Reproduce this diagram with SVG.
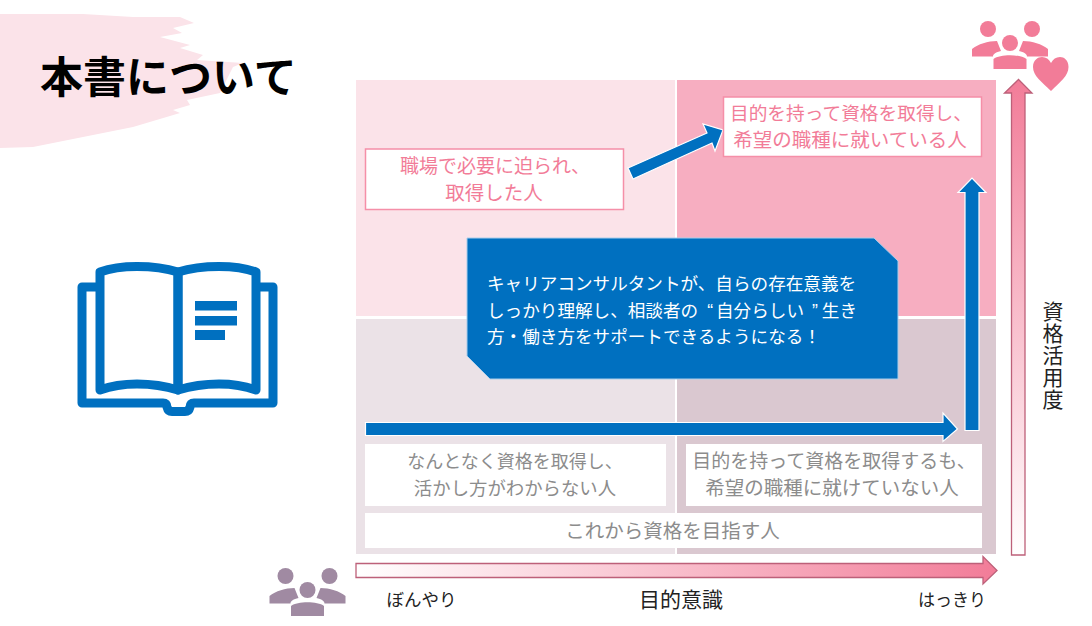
<svg xmlns="http://www.w3.org/2000/svg" xmlns:xlink="http://www.w3.org/1999/xlink" width="1092" height="626" viewBox="0 0 1092 626">
<style>
text{font-family:"Noto Sans CJK JP","Noto Sans",sans-serif}
.box{fill:#fff}
.pk{stroke:#f58fa8;stroke-width:1.5}
.t{font-size:19.5px;text-anchor:middle}
.tp{fill:#f27c98}
.tg{fill:#8c8c8c}
.lb{font-size:17.5px;fill:#222;text-anchor:middle}
.cw{font-size:17.6px;fill:#fff}
.blue{fill:#0070c0;stroke:#fff;stroke-width:1.2}
.ax{stroke:#bd6079;stroke-width:1.3}
.icon{fill:#0070c0}
.il{fill:none;stroke:#0070c0;stroke-width:9;stroke-linejoin:round}
</style>
<defs>
<linearGradient id="gh" x1="0" x2="1" y1="0" y2="0"><stop offset="0" stop-color="#fff"/><stop offset="1" stop-color="#f27c98"/></linearGradient>
<linearGradient id="gv" x1="0" x2="0" y1="1" y2="0"><stop offset="0" stop-color="#fff"/><stop offset="1" stop-color="#f27c98"/></linearGradient>
<g id="people">
<circle cx="988" cy="29" r="8"/><circle cx="1032" cy="29" r="8"/><circle cx="1010" cy="43" r="8"/>
<path d="M972 56.500V49C978 44 988 41 997 41L1001 51C996 52 993 54 993 56.500Z"/>
<path d="M1048 56.500V49C1042 44 1032 41 1023 41L1019 51C1024 52 1027 54 1027 56.500Z"/>
<path d="M993.500 69V59C1000 54 1020 54 1026.500 59V69Z"/>
</g>
</defs>
<g id="brush"><path d="M0 14L83 14L133 17L180 17L194 23L173 28L182 33L160 37L190 45L180 48L203 55L197 60L243 63L233 67L220 93L187 100L190 105L173 110L180 113L133 127L83 137L33 147L0 148Z" fill="#fbe3e9"/></g>
<g id="title"><text x="40" y="93" font-size="43" font-weight="700" fill="#000">本書について</text></g>
<g id="book">
<path class="il" d="M96 287H82V403H163Q167 403 167 407Q168 411.500 172 411.500H185Q189 411.500 190 407Q190 403 194 403H273V287H260"/>
<path class="il" d="M178 272C165 268 150 266.500 137 266.500C124 266.500 111 268 100 272V390C111 386 124 384 137 384C150 384 165 386 178 390Z"/>
<path class="il" d="M178 272C191 268 206 266.500 219 266.500C232 266.500 245 268 256 272V390C245 386 232 384 219 384C206 384 191 386 178 390Z"/>
<rect class="icon" x="195" y="301" width="42" height="9.500"/>
<rect class="icon" x="195" y="316" width="42" height="9.500"/>
<rect class="icon" x="195" y="330" width="30" height="10"/>
</g>
<g id="quadrants">
<rect x="356" y="80" width="319" height="236" fill="#fbe3e9"/>
<rect x="677" y="80" width="319" height="236" fill="#f7aec1"/>
<rect x="356" y="319" width="319" height="235" fill="#ebe2e7"/>
<rect x="677" y="319" width="319" height="235" fill="#dac8d0"/>
</g>
<g id="connectors">
<path class="blue" d="M628 168L707 133L703 124L723 130L715 151L712 143L633 179Z"/>
<path class="blue" d="M365.500 422.500H943V413L957.500 429L943 441.500V435.500H365.500Z"/>
<path class="blue" d="M965 430.500V192.500H958L972 178L986 192.500H979V430.500Z"/>
<path class="ax" fill="url(#gh)" d="M356 563.500H983V556.500L997 570.500L983 584V577.500H356Z"/>
<path class="ax" fill="url(#gv)" d="M1011.500 555V93H1004.500L1018.500 79.500L1032 93H1025V555Z"/>
</g>
<g id="node-shokuba">
<rect class="box pk" x="365.500" y="149" width="258" height="60.500"/>
<text class="t tp" x="495" y="173" style="font-size:19px">職場で必要に迫られ、</text>
<text class="t tp" x="494" y="200">取得した人</text>
</g>
<g id="node-kibou">
<rect class="box pk" x="723.500" y="97" width="258" height="59.500"/>
<text class="t tp" x="851" y="120" style="font-size:18.700px">目的を持って資格を取得し、</text>
<text class="t tp" x="850" y="147">希望の職種に就いている人</text>
</g>
<g id="node-nantonaku">
<rect class="box" x="365" y="444" width="301" height="62"/>
<text class="t tg" x="515" y="468" style="font-size:18px">なんとなく資格を取得し、</text>
<text class="t tg" x="515" y="495" style="font-size:18.400px">活かし方がわからない人</text>
</g>
<g id="node-mokuteki">
<rect class="box" x="686" y="444" width="296" height="62"/>
<text class="t tg" x="834" y="468" style="font-size:19px">目的を持って資格を取得するも、</text>
<text class="t tg" x="832" y="495">希望の職種に就けていない人</text>
</g>
<g id="node-korekara">
<rect class="box" x="365" y="513" width="617" height="35"/>
<text class="t tg" x="672.500" y="538">これから資格を目指す人</text>
</g>
<g id="node-callout">
<path d="M467 238H874L898 261V379H490L467 356Z" fill="#0070c0" stroke="#a9cdea" stroke-width="1"/>
<text class="cw" x="487" y="290">キャリアコンサルタントが、自らの存在意義を</text>
<text class="cw" x="487" y="317">しっかり理解し、相談者の<tspan font-family="Liberation Sans" dx="9">“</tspan><tspan dx="3">自分らしい</tspan><tspan font-family="Liberation Sans" dx="8">”</tspan><tspan dx="4">生き</tspan></text>
<text class="cw" x="487" y="343">方・働き方をサポートできるようになる！</text>
</g>
<g id="icon-people-pink" fill="#f27c98">
<use xlink:href="#people" href="#people"/>
<path d="M1051 91C1042 82 1033 76 1033 67C1033 60 1038 57 1042 57C1046 57 1049 59 1051 63C1053 59 1056 57 1060 57C1064 57 1068.500 60 1068.500 67C1068.500 76 1060 82 1051 91Z"/>
</g>
<g id="icon-people-purple" fill="#a08aa2">
<use xlink:href="#people" href="#people" transform="translate(-702.500 547)"/>
</g>
<g id="labels">
<text class="lb" x="421.500" y="606">ぼんやり</text>
<text class="lb" x="681" y="607" style="font-size:21px">目的意識</text>
<text class="lb" x="952" y="606" style="font-size:17px">はっきり</text>
<text font-size="21" fill="#222" x="1053" y="301" style="writing-mode:vertical-rl;letter-spacing:1px">資格活用度</text>
</g>
</svg>
